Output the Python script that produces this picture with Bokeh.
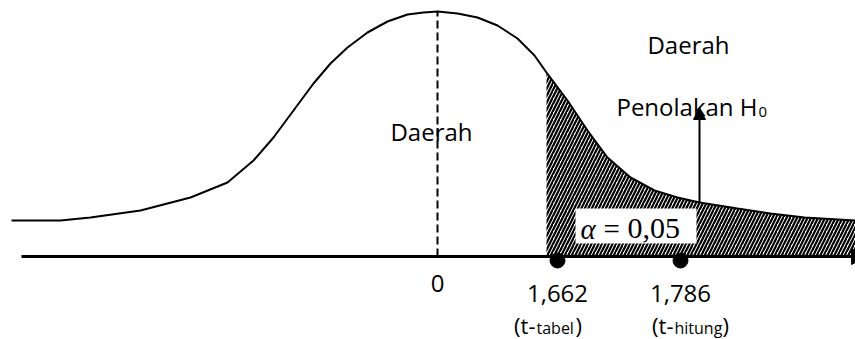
from bokeh.plotting import figure
from bokeh.models import Range1d, Arrow, NormalHead
from bokeh.core.properties import value
from bokeh.embed import file_html
from bokeh.resources import INLINE

# ---- data (schematic units: x = horizontal position, 0 at centre; y = height above axis) ----
curve_x = [-426, -377, -347, -297, -247, -210, -184, -164, -144, -124, -107, -90, -70, -50,
           -30, -14, 0, 20, 40, 60, 80, 97, 109, 130, 150, 170, 193, 217, 240, 262, 300,
           333, 367, 418]
curve_y = [36, 36, 39, 46, 59, 74, 96, 119, 146, 173, 193, 209, 224, 235,
           242, 244, 245, 243, 239, 231, 218, 201, 184, 156, 126, 99, 79, 66, 59, 54, 48,
           43, 39, 36]

crit_x = 109           # start of shaded rejection region
axis_start = -416
axis_end = 430
point_x = [120, 243]   # 1,662 (t-tabel), 1,786 (t-hitung)
point_y = [-4, -4]
arrow_x = 262
arrow_y0 = 54
arrow_y1 = 149

main_texts = ["Daerah", "Daerah", "0", "1,662", "1,786"]
main_x = [251, -6, 0, 120, 243]
main_y = [212, 125, -27, -37, -37]

sub_main = ["(t-", "(t-"]
sub_small = ["tabel", "hitung"]
sub_close = [")", ")"]
sub_x = [98, 236]
sub_close_x = [138, 285]
sub_y = [-68, -68]
sub_small_y = [-71, -71]

FONT = value("Open Sans")
SERIF = value("Liberation Serif")

p = figure(width=855, height=339, x_range=Range1d(-437, 418), y_range=Range1d(-83, 256),
           x_axis_type=None, y_axis_type=None, toolbar_location=None,
           output_backend="svg", min_border=0)
p.outline_line_color = None
p.background_fill_color = "white"

# shaded (hatched) rejection region
shade_x = [crit_x] + [x for x in curve_x if x > crit_x] + [axis_end, axis_end, crit_x]
shade_y = [curve_y[curve_x.index(crit_x)]] + [y for x, y in zip(curve_x, curve_y) if x > crit_x] + [curve_y[-1], 0, 0]
p.patch(shade_x, shade_y, fill_color="white", line_color=None,
        hatch_pattern="/", hatch_color="black", hatch_scale=7, hatch_weight=2.2)

# curve
p.line(curve_x, curve_y, line_color="black", line_width=2)

# dashed centre line
p.segment(x0=[0], y0=[0], x1=[0], y1=[max(curve_y)], line_color="black",
          line_width=2, line_dash="8 4")

# horizontal axis with arrow
p.add_layout(Arrow(end=NormalHead(size=16, fill_color="black", line_color="black"),
                   x_start=axis_start, y_start=0, x_end=axis_end, y_end=0,
                   line_width=3, line_color="black"))

# points
p.scatter(point_x, point_y, size=15, color="black")

# arrow into rejection region
p.add_layout(Arrow(end=NormalHead(size=12, fill_color="black", line_color="black"),
                   x_start=arrow_x, y_start=arrow_y0, x_end=arrow_x, y_end=arrow_y1,
                   line_width=2, line_color="black"))

# white box for alpha
p.quad(left=[138], right=[259], bottom=[13], top=[48], fill_color="white", line_color=None)
p.text(x=[143], y=[28], text=["α"], text_font=SERIF, text_font_style="italic",
       text_font_size="29px", text_baseline="alphabetic", text_align="left", text_color="black")
p.text(x=[166], y=[28], text=["="], text_font=SERIF,
       text_font_size="29px", text_baseline="alphabetic", text_align="left", text_color="black")
p.text(x=[190], y=[28], text=["0,05"], text_font=SERIF,
       text_font_size="30px", text_baseline="alphabetic", text_align="left", text_color="black")

# main labels
p.text(x=main_x, y=main_y, text=main_texts, text_font=FONT, text_font_size="24px",
       text_align="center", text_baseline="alphabetic", text_color="black")

# Penolakan H0
p.text(x=[320], y=[150], text=["Penolakan H"], text_font=FONT, text_font_size="24px",
       text_align="right", text_baseline="alphabetic", text_color="black")
p.text(x=[321], y=[145], text=["0"], text_font=FONT, text_font_size="15px",
       text_align="left", text_baseline="alphabetic", text_color="black")

# (t-tabel), (t-hitung)
p.text(x=sub_x, y=sub_y, text=sub_main, text_font=FONT, text_font_size="22px",
       text_align="right", text_baseline="alphabetic", text_color="black")
p.text(x=[v + 1 for v in sub_x], y=sub_small_y, text=sub_small, text_font=FONT,
       text_font_size="16px", text_align="left", text_baseline="alphabetic", text_color="black")
p.text(x=sub_close_x, y=sub_y, text=sub_close, text_font=FONT, text_font_size="22px",
       text_align="left", text_baseline="alphabetic", text_color="black")

open("out.html", "w").write(file_html(p, INLINE))
